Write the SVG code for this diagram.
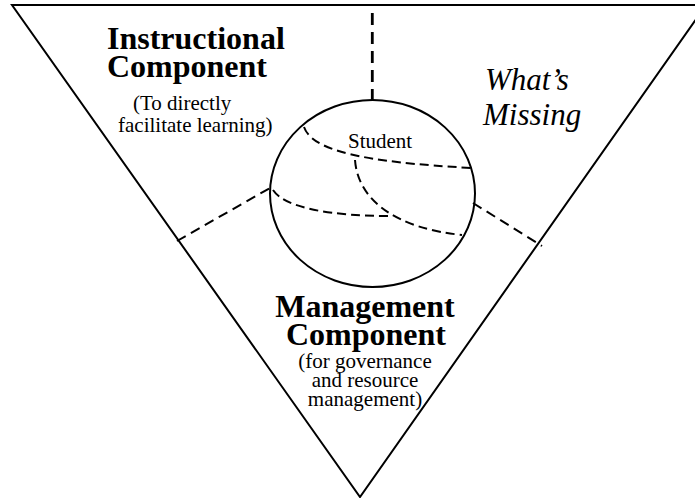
<svg xmlns="http://www.w3.org/2000/svg" width="695" height="498" viewBox="0 0 695 498">
<style>
.edge{fill:none;stroke:#000;stroke-width:2}
.dash{fill:none;stroke:#000;stroke-width:2;stroke-dasharray:10 6}
.curve{fill:none;stroke:#000;stroke-width:2;stroke-dasharray:9 5}
.vdash{fill:none;stroke:#000;stroke-width:2.8;stroke-dasharray:12 7}
.head{font-family:"Liberation Serif","Times New Roman",serif;font-weight:bold;font-size:32px;fill:#000}
.sub{font-family:"Liberation Serif","Times New Roman",serif;font-size:21px;fill:#000}
.ital{font-family:"Liberation Serif","Times New Roman",serif;font-style:italic;font-size:31px;fill:#000}
</style>
<rect width="695" height="498" fill="#fff"/>
<g id="triangle">
<polygon class="edge" points="12,5 706,5 360,497"/>
</g>
<g id="connectors">
<line class="vdash" x1="372.3" y1="13" x2="372.3" y2="100"/>
<line class="dash" x1="177" y1="241" x2="270" y2="188"/>
<line class="dash" x1="473" y1="203" x2="542" y2="246"/>
</g>
<g id="student">
<ellipse class="edge" cx="372.5" cy="193.5" rx="102.5" ry="93.5"/>
<path class="curve" d="M304,127 C312,150 360,162 472,168"/>
<path class="curve" d="M273,190 C285,208 330,216 392,216"/>
<path class="curve" d="M355,160 C358,200 395,228 462,235"/>
<text class="sub" x="348" y="148">Student</text>
</g>
<g id="instructional">
<text class="head" x="107" y="49">Instructional</text>
<text class="head" x="107" y="77">Component</text>
<text class="sub" x="133" y="110">(To directly</text>
<text class="sub" x="118" y="132">facilitate learning)</text>
</g>
<g id="missing">
<text class="ital" x="485" y="90">What’s</text>
<text class="ital" x="483" y="125">Missing</text>
</g>
<g id="management">
<text class="head" x="365" y="317" text-anchor="middle">Management</text>
<text class="head" x="366" y="345" text-anchor="middle">Component</text>
<text class="sub" x="365" y="368" text-anchor="middle">(for governance</text>
<text class="sub" x="365" y="387" text-anchor="middle">and resource</text>
<text class="sub" x="365" y="406" text-anchor="middle">management)</text>
</g>
</svg>
